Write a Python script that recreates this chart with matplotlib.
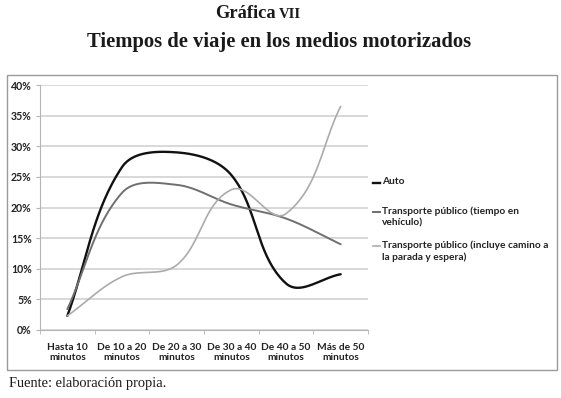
import numpy as np
import matplotlib.pyplot as plt
from matplotlib.lines import Line2D
from matplotlib.patches import Rectangle

# datos (porcentaje de viajes por rango de tiempo)
categorias = ["Hasta 10\nminutos", "De 10 a 20\nminutos", "De 20 a 30\nminutos",
              "De 30 a 40\nminutos", "De 40 a 50\nminutos", "Más de 50\nminutos"]
auto = [2.3, 26.6, 29.0, 25.3, 7.6, 9.1]
tp_vehiculo = [3.4, 22.4, 23.7, 20.5, 18.2, 14.0]
tp_total = [2.3, 8.7, 10.6, 22.9, 19.0, 36.5]

series = [
    ("Auto", auto, "#111111", 1.7),
    ("Transporte público (tiempo en\nvehículo)", tp_vehiculo, "#6f6f6f", 1.4),
    ("Transporte público (incluye camino a\nla parada y espera)", tp_total, "#ababab", 1.2),
]


def suavizar(y, n=40, sx=55.0, sy=6.14, k=0.34):
    # curva suavizada parecida a la de Excel: Bezier en escala de pantalla,
    # con tangentes escaladas por la longitud de cada tramo
    P = np.column_stack([np.arange(len(y)) * sx, np.asarray(y, float) * sy])
    m = len(P)
    tang = []
    for i in range(m):
        d = P[min(i + 1, m - 1)] - P[max(i - 1, 0)]
        tang.append(d / np.linalg.norm(d))
    t = np.linspace(0, 1, n)[:, None]
    partes = []
    for i in range(m - 1):
        a, b = P[i], P[i + 1]
        L = np.linalg.norm(b - a)
        c1 = a + tang[i] * L * k
        c2 = b - tang[i + 1] * L * k
        partes.append((1 - t) ** 3 * a + 3 * (1 - t) ** 2 * t * c1
                      + 3 * (1 - t) * t ** 2 * c2 + t ** 3 * b)
    curva = np.vstack(partes)
    return curva[:, 0] / sx, curva[:, 1] / sy


fig = plt.figure(figsize=(5.61, 3.98), dpi=100)

# marco del gráfico
fig.patches.append(Rectangle((7 / 561, 1 - 370 / 398), 550 / 561, 295 / 398,
                             transform=fig.transFigure, fill=False,
                             edgecolor="#9a9a9a", linewidth=1.0))

ax = fig.add_axes([40 / 561, 68 / 398, 328 / 561, 245 / 398])
for nombre, valores, color, lw in series:
    xs, ys = suavizar(valores)
    ax.plot(xs, ys, color=color, linewidth=lw, solid_capstyle="round")

ax.set_xlim(-0.5, len(categorias) - 0.5)
ax.set_ylim(0, 40)
ax.set_yticks(range(0, 41, 5))
ax.set_yticklabels([f"{v}%" for v in range(0, 41, 5)])
ax.set_xticks(range(len(categorias)))
ax.set_xticklabels(categorias)
ax.set_xticks(np.arange(-0.5, len(categorias), 1), minor=True)

ax.grid(axis="y", color="#d8d8d8", linewidth=1.4)
ax.set_axisbelow(True)
for lado in ["top", "right"]:
    ax.spines[lado].set_visible(False)
ax.spines["left"].set_color("#b5b5b5")
ax.spines["bottom"].set_color("#b5b5b5")
ax.tick_params(axis="x", which="major", length=0, pad=9,
               labelsize=7.3, labelcolor="#222222")
ax.tick_params(axis="x", which="minor", length=3, color="#b5b5b5")
ax.tick_params(axis="y", length=3, color="#b5b5b5", pad=3,
               labelsize=7.6, labelcolor="#222222")
for lab in ax.get_xticklabels() + ax.get_yticklabels():
    lab.set_family(["Lato", "DejaVu Sans"])
    lab.set_fontweight("bold")
    lab.set_linespacing(1.15)

# leyenda
leyenda_y = [183, 212, 246]
for (nombre, valores, color, lw), ypx in zip(series, leyenda_y):
    yf = 1 - ypx / 398
    fig.add_artist(Line2D([373 / 561, 380 / 561], [yf, yf],
                          transform=fig.transFigure, color=color, linewidth=lw))
    fig.text(382 / 561, yf + 6 / 398, nombre, ha="left", va="top",
             fontsize=7.3, fontweight="bold", color="#222222",
             family=["Lato", "DejaVu Sans"], linespacing=1.35)

# títulos
serif = ["Liberation Serif", "DejaVu Serif"]
fig.text(276 / 561, 1 - 14 / 398, "Gráfica", ha="right", va="center",
         fontsize=13.3, fontweight="bold", family=serif, color="#1a1a1a")
fig.text(279 / 561, 1 - 15 / 398, "VII", ha="left", va="center",
         fontsize=10.5, fontweight="bold", family=serif, color="#1a1a1a")
fig.text(279 / 561, 1 - 42 / 398, "Tiempos de viaje en los medios motorizados",
         ha="center", va="center", fontsize=14.9, fontweight="bold",
         family=serif, color="#1a1a1a")
fig.text(9 / 561, 1 - 383 / 398, "Fuente: elaboración propia.", ha="left",
         va="center", fontsize=10.4, family=serif, color="#1a1a1a")

fig.savefig("out.png", dpi=100)
